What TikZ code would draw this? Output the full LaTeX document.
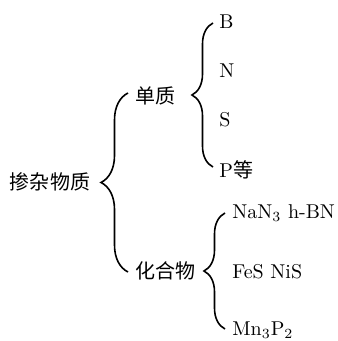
\documentclass[tikz,border=0pt]{standalone}
\usepackage{fontspec}
\newfontfamily\cjk{Noto Sans CJK SC}
\usetikzlibrary{decorations.pathreplacing}
\begin{document}
\begin{tikzpicture}[x=0.5pt,y=-0.5pt,
  lbl/.style={inner sep=0pt, font=\fontsize{10}{12}\selectfont},
  item/.style={lbl, anchor=west},
  bracebig/.style={decorate, decoration={brace, amplitude=13.5pt}, line width=0.8pt},
  bracesmall/.style={decorate, decoration={brace, amplitude=10.5pt}, line width=0.8pt}]
\useasboundingbox (0,0) rectangle (337,341);
% labels
\node[lbl] (root) at (50,182) {\cjk 掺杂物质};
\node[lbl] (dz) at (155,96) {\cjk 单质};
\node[lbl] (hhw) at (165,271) {\cjk 化合物};
\node[item] (B) at (219,22) {B};
\node[item] (N) at (219,71) {N};
\node[item] (S) at (219,120) {S};
\node[item] (P) at (219,170) {P{\cjk 等}};
\node[item] (na) at (232,213) {NaN$_3$ h-BN};
\node[item] (fe) at (232,272) {FeS NiS};
\node[item] (mn) at (232,330) {Mn$_3$P$_2$};
% brace ends
\coordinate (b1t) at (128,93);
\coordinate (b1b) at (128,272);
\coordinate (b2t) at (213,23);
\coordinate (b2b) at (213,167);
\coordinate (b3t) at (225,213);
\coordinate (b3b) at (225,329);
\draw[bracebig] (b1b) -- (b1t);
\draw[bracesmall] (b2b) -- (b2t);
\draw[bracesmall] (b3b) -- (b3t);
\end{tikzpicture}
\end{document}
